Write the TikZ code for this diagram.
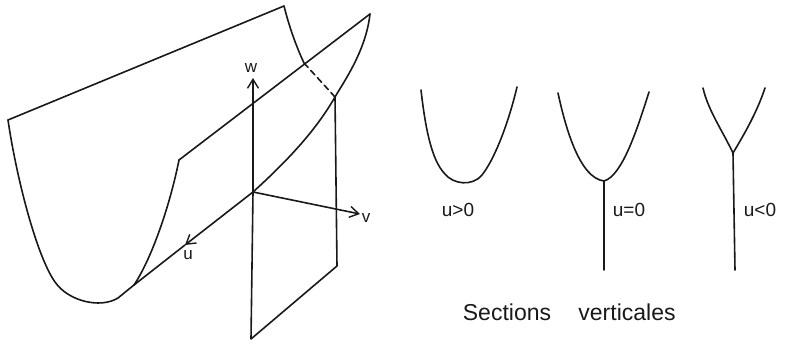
\documentclass[tikz,border=0pt]{standalone}
\usepackage{fontspec}
\setmainfont{Liberation Sans}
\usetikzlibrary{arrows.meta}
\tikzset{
  ink/.style={draw=black!90,line width=1.6pt,line join=round,line cap=round},
  axis/.style={ink,-{Straight Barb[length=9pt,width=11pt,line width=1.4pt]}},
  axlab/.style={inner sep=0pt,font=\fontsize{17}{17}\selectfont,text=black!90},
  lab/.style={inner sep=0pt,font=\fontsize{19}{19}\selectfont,text=black!90},
  captext/.style={inner sep=0pt,font=\fontsize{23}{23}\selectfont,text=black!90}
}
\begin{document}
\begin{tikzpicture}[x=1pt,y=-1pt]
\useasboundingbox (0,0) rectangle (788,344);
\coordinate (O) at (253,192);
\coordinate (A) at (8,120);
\coordinate (B) at (284,6);
\coordinate (C) at (304,63);
\coordinate (D) at (335,97);
\coordinate (E) at (370,14);
\coordinate (F) at (179,160);
\coordinate (G) at (134,285);
\coordinate (H) at (118,298);
\coordinate (P) at (337,266);
\coordinate (Q) at (251,339);
\coordinate (WT) at (253,78);
\coordinate (VT) at (360,214);
\coordinate (UT) at (185,245);
% surface
\draw[ink] (A) -- (B);
\draw[ink] (B) .. controls (289,26) and (296,46) .. (C);
\draw[ink,dash pattern=on 6pt off 4pt] (C) -- (D);
\draw[ink] (A) .. controls (16,175) and (36,255) .. (55,282)
  .. controls (68,301) and (100,309) .. (118,298) -- (G);
\draw[ink] (F) .. controls (170,205) and (152,258) .. (G);
\draw[ink] (F) -- (E);
\draw[ink] (E) .. controls (366,50) and (345,80) .. (D)
  .. controls (315,132) and (285,163) .. (O);
% vertical sheet
\draw[ink] (D) -- (P) -- (Q) -- (O);
% axes
\draw[axis] (O) -- (WT);
\draw[axis] (O) -- (VT);
\draw[axis] (O) -- (UT);
\draw[ink] (UT) -- (G);
\node[axlab] (w) at (251,68) {w};
\node[axlab] (v) at (366,218) {v};
\node[axlab] (u) at (188,255) {u};
% sections
\draw[ink] (421,90) .. controls (425,125) and (431,160) .. (445,174)
  .. controls (453,184) and (472,187) .. (482,175)
  .. controls (494,160) and (508,125) .. (517,87);
\coordinate (S2) at (604,181);
\coordinate (S2b) at (604,270);
\draw[ink] (558,93) .. controls (566,130) and (580,178) .. (S2)
  .. controls (622,176) and (637,130) .. (649,92);
\draw[ink] (S2) -- (S2b);
\coordinate (S3) at (733,153);
\coordinate (S3b) at (735,270);
\draw[ink] (703,88) .. controls (708,110) and (722,130) .. (S3)
  .. controls (745,133) and (757,112) .. (765,88);
\draw[ink] (S3) -- (S3b);
\node[lab] (l1) at (458,209.5) {u>0};
\node[lab] (l2) at (629,210) {u=0};
\node[lab] (l3) at (760,210) {u<0};
\node[captext] (t1) at (507,312) {Sections};
\node[captext] (t2) at (627,312) {verticales};
\end{tikzpicture}
\end{document}
